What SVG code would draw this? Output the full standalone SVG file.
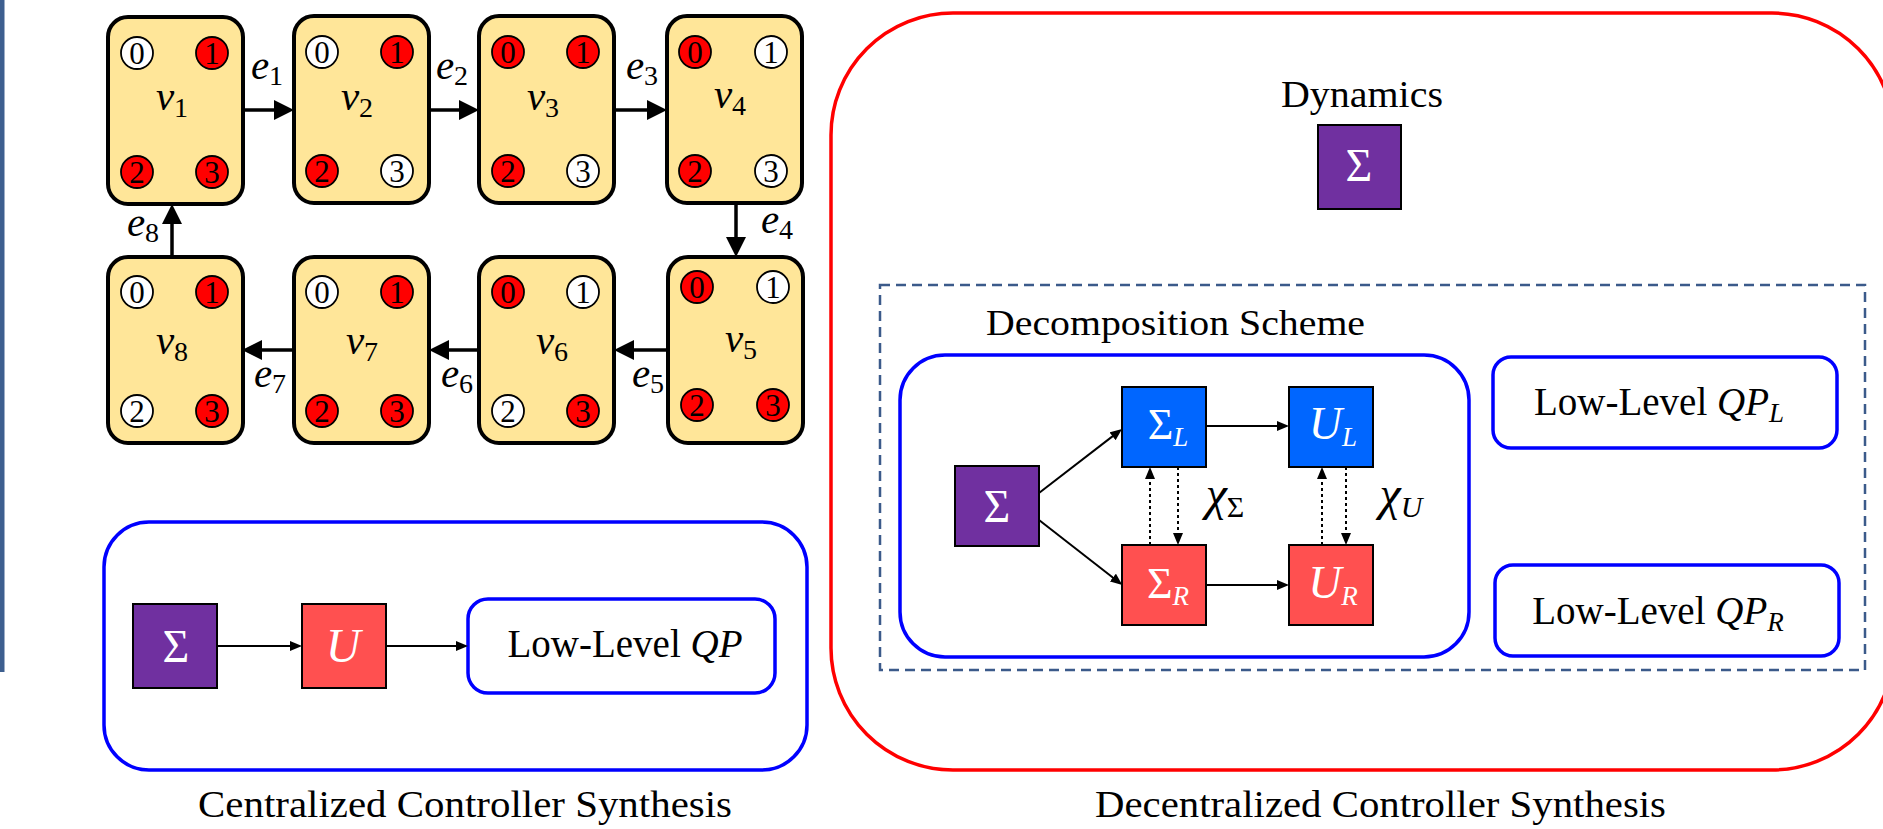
<svg xmlns="http://www.w3.org/2000/svg" width="1883" height="829" viewBox="0 0 1883 829">
<style>
text{font-family:'Liberation Serif','DejaVu Serif',serif}
.nd{fill:#FFE699;stroke:#000;stroke-width:4}
.cr{fill:#FF0000;stroke:#000;stroke-width:1.8}
.cw{fill:#FFFFFF;stroke:#000;stroke-width:1.8}
.dg{font-size:31px;text-anchor:middle;fill:#000}
.ml{font-size:41px;font-style:italic;text-anchor:middle;fill:#000}
.sb{font-style:normal;font-size:28px}
.sbi{font-size:27px}
.big{fill:none;stroke:#000;stroke-width:3.5}
.thin{fill:none;stroke:#000;stroke-width:2}
.dot{fill:none;stroke:#000;stroke-width:2;stroke-dasharray:3 3}
.sq{stroke:#000;stroke-width:2}
.pu{fill:#7030A0}
.rd{fill:#FF5050}
.bl{fill:#0066FF}
.sig{font-size:46px;fill:#fff;text-anchor:middle}
.cal{font-size:48px;font-style:italic;fill:#fff;text-anchor:middle}
.bbox{fill:#fff;stroke:#0000FF;stroke-width:3.5}
.tx{font-size:39px;fill:#000;text-anchor:middle}
.it{font-style:italic}
</style>
<defs>
<marker id="ab" markerUnits="userSpaceOnUse" markerWidth="20" markerHeight="20" refX="10" refY="10" orient="auto"><path d="M0,0 L20,10 L0,20 z" fill="#000"/></marker>
<marker id="as" markerUnits="userSpaceOnUse" markerWidth="12" markerHeight="10" refX="6" refY="5" orient="auto"><path d="M0,0 L12,5 L0,10 z" fill="#000"/></marker>
</defs>
<rect x="0" y="0" width="4.5" height="672" fill="#3D5F8F"/>

<g id="v1">
<rect class="nd" x="108" y="17" width="135" height="187" rx="20"/>
<circle class="cw" cx="137" cy="53" r="16"/><text class="dg" x="137" y="63.5">0</text>
<circle class="cr" cx="212" cy="53" r="16"/><text class="dg" x="212" y="63.5">1</text>
<circle class="cr" cx="137" cy="172" r="16"/><text class="dg" x="137" y="182.5">2</text>
<circle class="cr" cx="212" cy="172" r="16"/><text class="dg" x="212" y="182.5">3</text>
<text class="ml" x="172" y="110">v<tspan class="sb" dy="7">1</tspan></text>
</g>
<g id="v2">
<rect class="nd" x="294" y="16" width="135" height="187" rx="20"/>
<circle class="cw" cx="322" cy="52" r="16"/><text class="dg" x="322" y="62.5">0</text>
<circle class="cr" cx="397" cy="52" r="16"/><text class="dg" x="397" y="62.5">1</text>
<circle class="cr" cx="322" cy="171" r="16"/><text class="dg" x="322" y="181.5">2</text>
<circle class="cw" cx="397" cy="171" r="16"/><text class="dg" x="397" y="181.5">3</text>
<text class="ml" x="357" y="110">v<tspan class="sb" dy="7">2</tspan></text>
</g>
<g id="v3">
<rect class="nd" x="479" y="16" width="135" height="187" rx="20"/>
<circle class="cr" cx="508" cy="52" r="16"/><text class="dg" x="508" y="62.5">0</text>
<circle class="cr" cx="583" cy="52" r="16"/><text class="dg" x="583" y="62.5">1</text>
<circle class="cr" cx="508" cy="171" r="16"/><text class="dg" x="508" y="181.5">2</text>
<circle class="cw" cx="583" cy="171" r="16"/><text class="dg" x="583" y="181.5">3</text>
<text class="ml" x="543" y="110">v<tspan class="sb" dy="7">3</tspan></text>
</g>
<g id="v4">
<rect class="nd" x="667" y="16" width="135" height="187" rx="20"/>
<circle class="cr" cx="695" cy="52" r="16"/><text class="dg" x="695" y="62.5">0</text>
<circle class="cw" cx="771" cy="52" r="16"/><text class="dg" x="771" y="62.5">1</text>
<circle class="cr" cx="695" cy="171" r="16"/><text class="dg" x="695" y="181.5">2</text>
<circle class="cw" cx="771" cy="171" r="16"/><text class="dg" x="771" y="181.5">3</text>
<text class="ml" x="730" y="108">v<tspan class="sb" dy="7">4</tspan></text>
</g>
<g id="v5">
<rect class="nd" x="668" y="257" width="135" height="186" rx="20"/>
<circle class="cr" cx="697" cy="287" r="16"/><text class="dg" x="697" y="297.5">0</text>
<circle class="cw" cx="773" cy="287" r="16"/><text class="dg" x="773" y="297.5">1</text>
<circle class="cr" cx="697" cy="405" r="16"/><text class="dg" x="697" y="415.5">2</text>
<circle class="cr" cx="773" cy="405" r="16"/><text class="dg" x="773" y="415.5">3</text>
<text class="ml" x="741" y="352">v<tspan class="sb" dy="7">5</tspan></text>
</g>
<g id="v6">
<rect class="nd" x="479" y="257" width="135" height="186" rx="20"/>
<circle class="cr" cx="508" cy="292" r="16"/><text class="dg" x="508" y="302.5">0</text>
<circle class="cw" cx="583" cy="292" r="16"/><text class="dg" x="583" y="302.5">1</text>
<circle class="cw" cx="508" cy="411" r="16"/><text class="dg" x="508" y="421.5">2</text>
<circle class="cr" cx="583" cy="411" r="16"/><text class="dg" x="583" y="421.5">3</text>
<text class="ml" x="552" y="354">v<tspan class="sb" dy="7">6</tspan></text>
</g>
<g id="v7">
<rect class="nd" x="294" y="257" width="135" height="186" rx="20"/>
<circle class="cw" cx="322" cy="292" r="16"/><text class="dg" x="322" y="302.5">0</text>
<circle class="cr" cx="397" cy="292" r="16"/><text class="dg" x="397" y="302.5">1</text>
<circle class="cr" cx="322" cy="411" r="16"/><text class="dg" x="322" y="421.5">2</text>
<circle class="cr" cx="397" cy="411" r="16"/><text class="dg" x="397" y="421.5">3</text>
<text class="ml" x="362" y="354">v<tspan class="sb" dy="7">7</tspan></text>
</g>
<g id="v8">
<rect class="nd" x="108" y="257" width="135" height="186" rx="20"/>
<circle class="cw" cx="137" cy="292" r="16"/><text class="dg" x="137" y="302.5">0</text>
<circle class="cr" cx="212" cy="292" r="16"/><text class="dg" x="212" y="302.5">1</text>
<circle class="cw" cx="137" cy="411" r="16"/><text class="dg" x="137" y="421.5">2</text>
<circle class="cr" cx="212" cy="411" r="16"/><text class="dg" x="212" y="421.5">3</text>
<text class="ml" x="172" y="354">v<tspan class="sb" dy="7">8</tspan></text>
</g>

<g id="graph-edges">
<path class="big" d="M243,110 H284" marker-end="url(#ab)"/>
<path class="big" d="M429,110 H469" marker-end="url(#ab)"/>
<path class="big" d="M614,110 H657" marker-end="url(#ab)"/>
<path class="big" d="M736,203 V247" marker-end="url(#ab)"/>
<path class="big" d="M668,350 H624" marker-end="url(#ab)"/>
<path class="big" d="M479,350 H439" marker-end="url(#ab)"/>
<path class="big" d="M294,350 H252" marker-end="url(#ab)"/>
<path class="big" d="M172,257 V214" marker-end="url(#ab)"/>
<text class="ml" x="267" y="79">e<tspan class="sb" dy="6">1</tspan></text>
<text class="ml" x="452" y="79">e<tspan class="sb" dy="6">2</tspan></text>
<text class="ml" x="642" y="79">e<tspan class="sb" dy="6">3</tspan></text>
<text class="ml" x="777" y="233">e<tspan class="sb" dy="6">4</tspan></text>
<text class="ml" x="648" y="387">e<tspan class="sb" dy="6">5</tspan></text>
<text class="ml" x="457" y="387">e<tspan class="sb" dy="6">6</tspan></text>
<text class="ml" x="270" y="387">e<tspan class="sb" dy="6">7</tspan></text>
<text class="ml" x="143" y="236">e<tspan class="sb" dy="6">8</tspan></text>
</g>

<g id="centralized">
<rect class="bbox" x="104" y="522" width="703" height="248" rx="45"/>
<text class="tx" x="465" y="817" style="font-size:38px" textLength="534" lengthAdjust="spacingAndGlyphs">Centralized Controller Synthesis</text>
</g>
<g id="c-sigma">
<rect class="sq pu" x="133" y="604" width="84" height="84"/>
<text class="sig" x="176" y="662">Σ</text>
</g>
<g id="c-u">
<rect class="sq rd" x="302" y="604" width="84" height="84"/>
<text class="cal" x="343" y="662">U</text>
</g>
<g id="c-qp">
<rect class="bbox" x="468" y="599" width="307" height="94" rx="20"/>
<text class="tx" x="625" y="657">Low-Level <tspan class="it">QP</tspan></text>
</g>

<g id="decentralized">
<rect x="831" y="13" width="1063" height="757" rx="122" fill="none" stroke="#FF0000" stroke-width="3.5"/>
<text class="tx" x="1362" y="107" style="font-size:38px" textLength="162" lengthAdjust="spacingAndGlyphs">Dynamics</text>
<rect x="880" y="285" width="985" height="385" fill="none" stroke="#3B5A8A" stroke-width="2.5" stroke-dasharray="10 6"/>
<text class="tx" x="1175.5" y="335" style="font-size:36px" textLength="379" lengthAdjust="spacingAndGlyphs">Decomposition Scheme</text>
<text class="tx" x="1380.5" y="817" style="font-size:38px" textLength="571" lengthAdjust="spacingAndGlyphs">Decentralized Controller Synthesis</text>
</g>
<g id="d-dyn-sigma">
<rect class="sq pu" x="1318" y="125" width="83" height="84"/>
<text class="sig" x="1359" y="181">Σ</text>
</g>
<g id="decomposition">
<rect class="bbox" x="900" y="355" width="569" height="302" rx="45"/>
</g>
<g id="d-sigma">
<rect class="sq pu" x="955" y="466" width="84" height="80"/>
<text class="sig" x="997" y="522">Σ</text>
</g>
<g id="d-sigmaL">
<rect class="sq bl" x="1122" y="387" width="84" height="80"/>
<text class="sig" x="1168" y="439" style="font-size:44px">Σ<tspan class="it sbi" dy="7">L</tspan></text>
</g>
<g id="d-uL">
<rect class="sq bl" x="1289" y="387" width="84" height="80"/>
<text class="cal" x="1333" y="439" style="font-size:46px">U<tspan class="sbi" dy="7">L</tspan></text>
</g>
<g id="d-sigmaR">
<rect class="sq rd" x="1122" y="545" width="84" height="80"/>
<text class="sig" x="1168" y="598" style="font-size:44px">Σ<tspan class="it sbi" dy="7">R</tspan></text>
</g>
<g id="d-uR">
<rect class="sq rd" x="1289" y="545" width="84" height="80"/>
<text class="cal" x="1333" y="598" style="font-size:46px">U<tspan class="sbi" dy="7">R</tspan></text>
</g>
<g id="d-qpL">
<rect class="bbox" x="1493" y="357" width="344" height="91" rx="18"/>
<text class="tx" x="1659" y="415">Low-Level <tspan class="it">QP<tspan class="sbi" dy="7">L</tspan></tspan></text>
</g>
<g id="d-qpR">
<rect class="bbox" x="1495" y="565" width="344" height="91" rx="18"/>
<text class="tx" x="1658" y="624">Low-Level <tspan class="it">QP<tspan class="sbi" dy="7">R</tspan></tspan></text>
</g>

<g id="connectors">
<path class="thin" d="M217,646 H296" marker-end="url(#as)"/>
<path class="thin" d="M386,646 H462" marker-end="url(#as)"/>
<path class="thin" d="M1039,493 L1117.3,432.6" marker-end="url(#as)"/>
<path class="thin" d="M1039,520 L1117.6,581.3" marker-end="url(#as)"/>
<path class="thin" d="M1206,426 H1283" marker-end="url(#as)"/>
<path class="thin" d="M1206,585 H1283" marker-end="url(#as)"/>
<path class="dot" d="M1150,545 V473" marker-end="url(#as)"/>
<path class="dot" d="M1178,467 V539" marker-end="url(#as)"/>
<path class="dot" d="M1322,545 V473" marker-end="url(#as)"/>
<path class="dot" d="M1346,467 V539" marker-end="url(#as)"/>
<text class="ml" x="1225" y="510" style="font-size:48px">χ<tspan class="sb" style="font-size:30px" dy="7">Σ</tspan></text>
<text class="ml" x="1401" y="510" style="font-size:48px">χ<tspan style="font-size:30px" dy="7">U</tspan></text>
</g>
</svg>
